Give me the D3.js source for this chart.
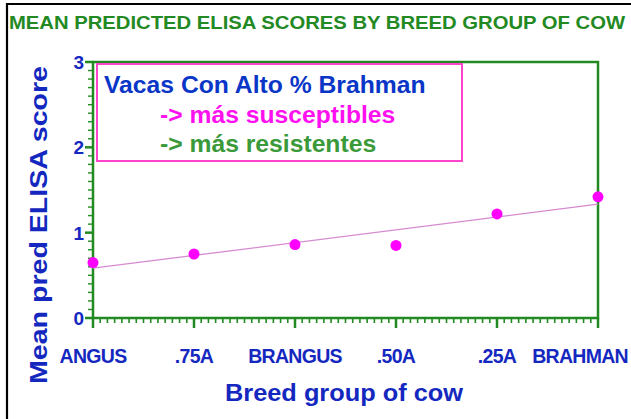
<!DOCTYPE html>
<html>
<head>
<meta charset="utf-8">
<script src="https://cdn.jsdelivr.net/npm/d3@7"></script>
<style>
    body { margin: 0; background: #fff; }
    svg { display: block; font-family: "Liberation Sans", Arial, sans-serif; }
</style>
</head>
<body>
<div id="vis"></div>
<script>
// breed groups and mean predicted scores
var breeds = ['ANGUS', '.75A', 'BRANGUS', '.50A', '.25A', 'BRAHMAN'];
var scores = [0.65, 0.75, 0.86, 0.85, 1.22, 1.42];
var yTicks = [0, 1, 2, 3];

var W = 631, H = 419;
var margin = {left: 93, right: 33, top: 62, bottom: 101};
var width = W - margin.left - margin.right;
var height = H - margin.top - margin.bottom;

var green = '#238a23', blue = '#1428c0', pink = '#ff00ff';

var svg = d3.select('#vis')
    .append('svg')
    .attr('width', W)
    .attr('height', H);

// outer frame (top and left only)
svg.append('path')
    .attr('d', 'M7,419 V4 H631')
    .attr('fill', 'none')
    .attr('stroke', '#000')
    .attr('stroke-width', 2.2);

svg.append('text')
    .attr('x', 9).attr('y', 29)
    .attr('fill', green)
    .style('font-size', '18px')
    .style('font-weight', 'bold')
    .attr('textLength', 616)
    .attr('lengthAdjust', 'spacingAndGlyphs')
    .text('MEAN  PREDICTED  ELISA  SCORES  BY  BREED  GROUP  OF  COW');

var xScale = d3.scalePoint().domain(d3.range(breeds.length)).range([0, width]);
var yScale = d3.scaleLinear().domain([0, 3]).range([height, 0]);

var g = svg.append('g')
    .attr('transform', 'translate(' + margin.left + ',' + margin.top + ')');

// minor ticks
var xMinor = [];
for (var i = 0; i < breeds.length - 1; i++) {
    for (var k = 1; k < 14; k++) xMinor.push(i + k / 14);
}
var xLin = d3.scaleLinear().domain([0, breeds.length - 1]).range([0, width]);
g.selectAll('.xminor').data(xMinor).enter().append('line')
    .attr('x1', function(d) { return xLin(d); })
    .attr('x2', function(d) { return xLin(d); })
    .attr('y1', height).attr('y2', height + 5)
    .attr('stroke', green).attr('stroke-width', 1.6);

var yMinor = d3.range(0, 3.001, 0.1).filter(function(d) { return Math.abs(d - Math.round(d)) > 0.01; });
g.selectAll('.yminor').data(yMinor).enter().append('line')
    .attr('x1', -5).attr('x2', 0)
    .attr('y1', function(d) { return yScale(d); })
    .attr('y2', function(d) { return yScale(d); })
    .attr('stroke', green).attr('stroke-width', 1.4);

// major ticks
g.selectAll('.xmajor').data(d3.range(breeds.length)).enter().append('line')
    .attr('x1', function(d) { return xScale(d); })
    .attr('x2', function(d) { return xScale(d); })
    .attr('y1', height).attr('y2', height + 10)
    .attr('stroke', green).attr('stroke-width', 2.5);

g.selectAll('.ymajor').data(yTicks).enter().append('line')
    .attr('x1', -8).attr('x2', 0)
    .attr('y1', function(d) { return yScale(d); })
    .attr('y2', function(d) { return yScale(d); })
    .attr('stroke', green).attr('stroke-width', 2.5);

// frame
g.append('rect')
    .attr('width', width).attr('height', height)
    .attr('fill', 'none')
    .attr('stroke', green)
    .attr('stroke-width', 2.5);

// tick labels
g.selectAll('.ylab').data(yTicks).enter().append('text')
    .attr('x', -9)
    .attr('y', function(d) { return yScale(d) + 7; })
    .attr('text-anchor', 'end')
    .attr('fill', blue)
    .style('font-size', '19px')
    .style('font-weight', 'bold')
    .text(function(d) { return d; });

g.selectAll('.xlab').data(breeds).enter().append('text')
    .attr('x', function(d, i) { return i === breeds.length - 1 ? W - margin.left - 3 : xScale(i); })
    .attr('y', height + 45)
    .attr('text-anchor', function(d, i) { return i === breeds.length - 1 ? 'end' : 'middle'; })
    .attr('fill', blue)
    .style('font-size', '19.5px')
    .style('font-weight', 'bold')
    .style('letter-spacing', '-0.7px')
    .text(function(d) { return d; });

// axis titles
svg.append('text')
    .attr('transform', 'translate(47,' + 225 + ')rotate(-90)')
    .attr('text-anchor', 'middle')
    .attr('fill', blue)
    .style('font-size', '24px')
    .style('font-weight', 'bold')
    .attr('textLength', 318)
    .attr('lengthAdjust', 'spacingAndGlyphs')
    .text('Mean  pred  ELISA  score');

svg.append('text')
    .attr('x', 344).attr('y', 401)
    .attr('text-anchor', 'middle')
    .attr('fill', blue)
    .style('font-size', '24px')
    .style('font-weight', 'bold')
    .attr('textLength', 238)
    .attr('lengthAdjust', 'spacingAndGlyphs')
    .text('Breed  group  of  cow');

// fitted line (least squares on the means)
var xm = d3.mean(d3.range(breeds.length)), ym = d3.mean(scores);
var sxy = d3.sum(scores, function(d, i) { return (i - xm) * (d - ym); });
var sxx = d3.sum(d3.range(breeds.length), function(i) { return (i - xm) * (i - xm); });
var slope = sxy / sxx, icpt = ym - slope * xm;
g.append('line')
    .attr('x1', xScale(0)).attr('y1', yScale(icpt))
    .attr('x2', xScale(breeds.length - 1)).attr('y2', yScale(icpt + slope * (breeds.length - 1)))
    .attr('stroke', '#d68ad0')
    .attr('stroke-width', 1.3);

g.selectAll('circle').data(scores).enter().append('circle')
    .attr('cx', function(d, i) { return xScale(i); })
    .attr('cy', function(d) { return yScale(d); })
    .attr('r', 5.5)
    .attr('fill', pink);

// note box
svg.append('rect')
    .attr('x', 97).attr('y', 64)
    .attr('width', 365).attr('height', 97)
    .attr('fill', '#fff')
    .attr('stroke', '#ff44cc')
    .attr('stroke-width', 2);

var note = svg.append('g').style('font-size', '24.7px').style('font-weight', 'bold');
note.append('text').attr('x', 104).attr('y', 93).attr('fill', '#0a36c8')
    .text('Vacas Con Alto % Brahman');
note.append('text').attr('x', 160).attr('y', 123).attr('fill', '#ff10f0')
    .text('-> más susceptibles');
note.append('text').attr('x', 160).attr('y', 152).attr('fill', '#3a9a3a')
    .text('-> más resistentes');
</script>
</body>
</html>
